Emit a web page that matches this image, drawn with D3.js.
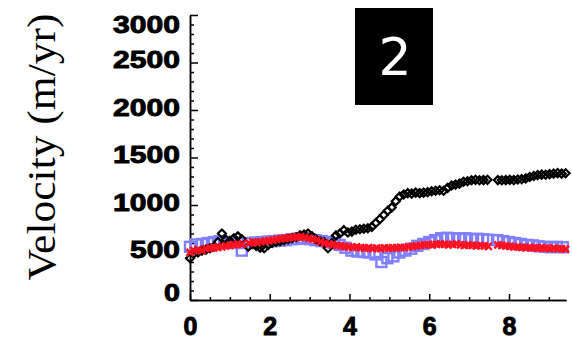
<!DOCTYPE html>
<html>
<head>
<meta charset="utf-8">
<script src="https://cdn.jsdelivr.net/npm/d3@7"></script>
<style>
  body { margin: 0; background: #fff; }
  .axis path, .axis line { stroke: #000; stroke-width: 1.5; }
  .axis text { font-family: "Liberation Sans", Arial, sans-serif; font-weight: bold; font-size: 24px; fill: #000; stroke: #000; stroke-width: 0.9; }
</style>
</head>
<body>
<script>
// data
// =================================
var xTickLabels = [0, 2, 4, 6, 8];
var yTickLabels = [0, 500, 1000, 1500, 2000, 2500, 3000];

// black diamonds
var blackTime = [0.00, 0.10, 0.20, 0.30, 0.40, 0.50, 0.60, 0.70, 0.80, 0.90, 1.00, 1.10, 1.20, 1.30,
  1.46, 1.56, 1.66, 1.76, 1.86, 1.96, 2.06, 2.16, 2.26, 2.36, 2.46, 2.56, 2.66, 2.76, 2.86, 2.96,
  3.06, 3.16, 3.26, 3.36, 3.46, 3.56, 3.66, 3.76, 3.86, 3.96, 4.06, 4.16, 4.26, 4.36, 4.46, 4.56,
  4.66, 4.76, 4.86, 4.96, 5.06, 5.16, 5.26, 5.36, 5.46, 5.56, 5.66, 5.76, 5.86, 5.96, 6.06, 6.16,
  6.26, 6.36, 6.46, 6.56, 6.66, 6.76, 6.86, 6.96, 7.06, 7.16, 7.26, 7.36, 7.46,
  7.72, 7.82, 7.92, 8.02, 8.12, 8.22, 8.32, 8.42, 8.52, 8.62, 8.72, 8.82, 8.92, 9.02, 9.12, 9.22, 9.32, 9.42];
var blackVel = [440, 490, 500, 520, 530, 545, 560, 610, 700, 635, 620, 650, 670, 640,
  560, 590, 570, 550, 545, 580, 600, 610, 620, 630, 640, 650, 660, 680, 690, 700,
  670, 640, 620, 610, 545, 600, 680, 700, 735, 710, 720, 740, 745, 750, 755, 770,
  810, 850, 895, 940, 975, 1040, 1090, 1110, 1125, 1120, 1130, 1125, 1130, 1135, 1145, 1150,
  1155, 1150, 1180, 1205, 1215, 1225, 1245, 1250, 1260, 1265, 1260, 1262, 1265,
  1262, 1260, 1262, 1265, 1262, 1268, 1272, 1280, 1295, 1305, 1315, 1320, 1318, 1325, 1330, 1336, 1330, 1334];

// red crosses
var redTime = [0.00, 0.10, 0.20, 0.30, 0.40, 0.50, 0.60, 0.70, 0.80, 0.90, 1.00, 1.10, 1.20, 1.30,
  1.48, 1.58, 1.68, 1.78, 1.88, 1.98, 2.08, 2.18, 2.28, 2.38, 2.48, 2.58, 2.68, 2.78, 2.88, 2.98,
  3.08, 3.18, 3.28, 3.38, 3.48, 3.58, 3.68, 3.78, 3.88, 3.98, 4.08, 4.18, 4.28, 4.38, 4.48, 4.58,
  4.68, 4.78, 4.88, 4.98, 5.08, 5.18, 5.28, 5.38, 5.48, 5.58, 5.68, 5.78, 5.88, 5.98, 6.08, 6.18,
  6.28, 6.38, 6.48, 6.58, 6.68, 6.78, 6.88, 6.98, 7.08, 7.18, 7.28, 7.38, 7.48,
  7.72, 7.82, 7.92, 8.02, 8.12, 8.22, 8.32, 8.42, 8.52, 8.62, 8.72, 8.82, 8.92, 9.02, 9.12, 9.22, 9.32, 9.42];
var redVel = [500, 520, 530, 520, 540, 545, 550, 555, 560, 570, 575, 580, 590, 585,
  600, 610, 605, 615, 620, 625, 630, 640, 645, 650, 655, 660, 665, 665, 660, 650,
  640, 630, 615, 600, 590, 580, 575, 570, 565, 560, 555, 560, 550, 545, 550, 540,
  545, 540, 548, 545, 550, 548, 555, 552, 560, 565, 570, 575, 580, 585, 580, 585,
  590, 585, 580, 585, 590, 580, 575, 580, 575, 570, 575, 570, 565,
  580, 575, 570, 565, 560, 560, 555, 550, 555, 548, 545, 550, 545, 540, 545, 538, 540, 535];

// blue squares
var blueTime = [0.00, 0.15, 0.30, 0.45, 0.60, 0.75, 0.90, 1.05, 1.20, 1.30,
  1.50, 1.65, 1.80, 1.95, 2.10, 2.25, 2.40, 2.55, 2.70, 2.85, 3.00, 3.15, 3.30, 3.45, 3.60, 3.75,
  3.90, 4.05, 4.20, 4.35, 4.50, 4.65, 4.80, 4.95, 5.10, 5.25, 5.40, 5.55, 5.70, 5.85, 6.00, 6.15,
  6.30, 6.45, 6.60, 6.75, 6.90, 7.05, 7.20, 7.35, 7.48,
  7.70, 7.85, 8.00, 8.15, 8.30, 8.45, 8.60, 8.75, 8.90, 9.05, 9.20, 9.35];
var blueVel = [560, 585, 590, 600, 610, 620, 600, 610, 600, 520,
  600, 605, 610, 615, 620, 625, 630, 640, 645, 650, 640, 630, 620, 610, 600, 580,
  550, 520, 510, 505, 500, 480, 400, 440, 460, 500, 520, 540, 570, 590, 610, 630,
  650, 655, 650, 645, 650, 640, 645, 640, 635,
  630, 620, 610, 600, 590, 580, 575, 565, 560, 555, 560, 555];

// Step 1: chart size
// =================================
var svgWidth = 572;
var svgHeight = 346;

var margin = {
  top: 15,
  right: 6,
  bottom: 46,
  left: 190
};

var width = svgWidth - margin.left - margin.right;
var height = svgHeight - margin.top - margin.bottom;

var svg = d3.select("body")
  .append("svg")
  .attr("width", svgWidth)
  .attr("height", svgHeight);

svg.append("rect").attr("width", svgWidth).attr("height", svgHeight).attr("fill", "#fff");

var chartGroup = svg.append("g")
  .attr("transform", `translate(${margin.left}, ${margin.top})`);

// Step 2: scales
// =================================
var xScale = d3.scaleLinear().domain([0, 9.43]).range([0, width]);
var yScale = d3.scaleLinear().domain([0, 3000]).range([height, 0]);

// Step 3: axes, ticks pointing inward
// =================================
var xMinor = d3.range(0, 9.5, 0.5).filter(d => d % 2 !== 0);
chartGroup.append("g")
  .attr("class", "axis")
  .attr("transform", `translate(0, ${height})`)
  .call(d3.axisBottom(xScale).tickValues(xMinor).tickSize(-3).tickSizeOuter(0).tickFormat(""));

var xAxisG = chartGroup.append("g")
  .attr("class", "axis")
  .attr("transform", `translate(0, ${height})`)
  .call(d3.axisBottom(xScale).tickValues(xTickLabels).tickSize(-6).tickSizeOuter(0).tickFormat(d3.format("d")));
xAxisG.selectAll("text").attr("y", 35).attr("dy", 0).style("font-size", "25px");

var yMinor = d3.range(0, 3001, 100).filter(d => d % 500 !== 0);
chartGroup.append("g")
  .attr("class", "axis")
  .call(d3.axisLeft(yScale).tickValues(yMinor).tickSize(-4).tickSizeOuter(0).tickFormat(""));

var yAxisG = chartGroup.append("g")
  .attr("class", "axis")
  .call(d3.axisLeft(yScale).tickValues(yTickLabels).tickSize(-8).tickSizeOuter(0).tickFormat(d3.format("d")));
yAxisG.selectAll("text")
  .attr("x", -10)
  .attr("dy", d => d === 3000 ? "0.7em" : (d === 0 ? "0" : "0.3em"))
  .attr("y", d => d === 3000 ? 1 : (d === 0 ? 0 : -2))
  .attr("textLength", d => String(d).length * 17 - 1)
  .attr("lengthAdjust", "spacingAndGlyphs");

// Step 4: markers
// =================================
var blueData = d3.zip(blueTime, blueVel);
var blackData = d3.zip(blackTime, blackVel);
var redData = d3.zip(redTime, redVel);

chartGroup.selectAll(".blue").data(blueData).enter().append("rect")
  .attr("x", d => xScale(d[0]) - 5)
  .attr("y", d => yScale(d[1]) - 5)
  .attr("width", 10)
  .attr("height", 10)
  .attr("fill", "none")
  .attr("stroke", "#8080ff")
  .attr("stroke-width", 2.4);

chartGroup.selectAll(".black").data(blackData).enter().append("path")
  .attr("transform", d => `translate(${xScale(d[0])}, ${yScale(d[1])})`)
  .attr("d", "M0,-4L4,0L0,4L-4,0Z")
  .attr("fill", "none")
  .attr("stroke", "#000")
  .attr("stroke-width", 2.2);

chartGroup.selectAll(".red").data(redData).enter().append("path")
  .attr("transform", d => `translate(${xScale(d[0])}, ${yScale(d[1])})`)
  .attr("d", "M-3.5,-3.5L3.5,3.5M-3.5,3.5L3.5,-3.5")
  .attr("fill", "none")
  .attr("stroke", "#ff1020")
  .attr("stroke-width", 2.5);

// Step 5: y title and panel number
// =================================
svg.append("text")
  .attr("transform", "translate(55, 147) rotate(-90)")
  .attr("text-anchor", "middle")
  .attr("textLength", 267)
  .attr("lengthAdjust", "spacingAndGlyphs")
  .style("font-family", "'Liberation Serif', 'Times New Roman', serif")
  .style("font-size", "41px")
  .text("Velocity (m/yr)");

svg.append("rect")
  .attr("x", 355)
  .attr("y", 8)
  .attr("width", 78)
  .attr("height", 97)
  .attr("fill", "#000");

svg.append("text")
  .attr("x", 395)
  .attr("y", 75)
  .attr("text-anchor", "middle")
  .attr("fill", "#fff")
  .style("font-family", "'DejaVu Sans', sans-serif")
  .style("font-size", "52px")
  .text("2");
</script>
</body>
</html>
